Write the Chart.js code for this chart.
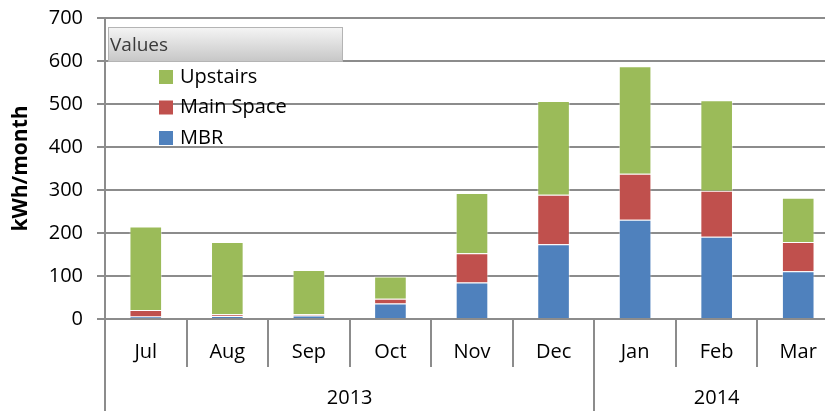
<!DOCTYPE html>
<html lang="en">
<head>
<meta charset="UTF-8">
<title>kWh/month by zone</title>
<script src="https://cdn.jsdelivr.net/npm/chart.js"></script>
<style>
  html, body { margin: 0; padding: 0; background: #fff; overflow: hidden; }
  /* shifted up a bit so the 700 line sits near the top edge like the original */
  .wrap { position: relative; width: 839px; height: 419px; margin-top: -8px; }
</style>
</head>
<body>
<div class="wrap"><canvas id="myChart"></canvas></div>
<script>
// data
const months = ['Jul', 'Aug', 'Sep', 'Oct', 'Nov', 'Dec', 'Jan', 'Feb', 'Mar'];
const years = ['2013', '2014'];
const monthsPerYear = [6, 3];
const mbr = [6, 7, 8, 36, 85, 174, 231, 191, 111];
const mainSpace = [15, 4, 3, 11, 68, 115, 107, 107, 68];
const upstairs = [194, 168, 103, 52, 140, 218, 250, 211, 103];
const yTicks = [0, 100, 200, 300, 400, 500, 600, 700];

const FONT = "'Open Sans', sans-serif";
const GRID = '#8c8c8c';
const SHIFT = 8;

// year row under the month labels + Excel style "Values" legend
const extras = {
    id: 'extras',
    afterDraw(chart) {
        const ctx = chart.ctx;
        const x = chart.scales.x;
        const base = x.top;
        const bottom = chart.height;

        ctx.save();
        ctx.strokeStyle = GRID;
        ctx.lineWidth = 2;
        ctx.fillStyle = '#000';
        ctx.font = '20px ' + FONT;
        ctx.textAlign = 'center';
        ctx.textBaseline = 'middle';
        let start = 0;
        years.forEach((yr, i) => {
            const n = monthsPerYear[i];
            const x0 = x.getPixelForValue(start - 0.5);
            const x1 = x.getPixelForValue(start + n - 0.5);
            ctx.beginPath();
            ctx.moveTo(Math.round(x0), base);
            ctx.lineTo(Math.round(x0), bottom);
            ctx.stroke();
            ctx.fillText(yr, (x0 + x1) / 2, base + 79);
            start += n;
        });

        // legend
        const bx = 108, by = 27 + SHIFT, bw = 235, bh = 35;
        const g = ctx.createLinearGradient(0, by, 0, by + bh);
        g.addColorStop(0, '#f5f5f5');
        g.addColorStop(1, '#c6c6c6');
        ctx.fillStyle = g;
        ctx.fillRect(bx, by, bw, bh);
        ctx.strokeStyle = '#b4b4b4';
        ctx.lineWidth = 1;
        ctx.strokeRect(bx + 0.5, by + 0.5, bw - 1, bh - 1);
        ctx.fillStyle = '#3a3a3a';
        ctx.font = '19px ' + FONT;
        ctx.textAlign = 'left';
        ctx.fillText('Values', bx + 2, by + bh / 2 + 1);

        const items = chart.data.datasets.slice().reverse();
        ctx.font = '20px ' + FONT;
        items.forEach((ds, i) => {
            const cy = 77 + SHIFT + i * 30.5;
            ctx.fillStyle = ds.backgroundColor;
            ctx.fillRect(159, cy - 7, 14, 14);
            ctx.fillStyle = '#000';
            ctx.fillText(ds.label, 180, cy);
        });
        ctx.restore();
    }
};

const ctx = document.getElementById('myChart').getContext('2d');
const myChart = new Chart(ctx, {
    type: 'bar',
    data: {
        labels: months,
        datasets: [{
            label: 'MBR',
            data: mbr,
            backgroundColor: '#4f81bd',
            borderColor: 'rgba(255,255,255,0.45)',
            borderWidth: 1
        }, {
            label: 'Main Space',
            data: mainSpace,
            backgroundColor: '#c0504d',
            borderColor: 'rgba(255,255,255,0.45)',
            borderWidth: 1
        }, {
            label: 'Upstairs',
            data: upstairs,
            backgroundColor: '#9bbb59',
            borderColor: 'rgba(255,255,255,0.45)',
            borderWidth: 1
        }]
    },
    options: {
        responsive: true,
        maintainAspectRatio: false,
        animation: false,
        layout: { padding: 0 },
        datasets: { bar: { categoryPercentage: 1, barPercentage: 0.4 } },
        plugins: {
            legend: { display: false },
            tooltip: { enabled: false }
        },
        scales: {
            x: {
                stacked: true,
                offset: true,
                grid: {
                    offset: true,
                    drawOnChartArea: false,
                    drawTicks: true,
                    tickLength: 48,
                    color: GRID,
                    lineWidth: 2
                },
                border: { color: GRID, width: 2 },
                ticks: {
                    color: '#000',
                    font: { family: FONT, size: 20 },
                    padding: -27,
                    maxRotation: 0,
                    autoSkip: false
                },
                afterFit(scale) { scale.height = 92; }
            },
            y: {
                stacked: true,
                min: 0,
                max: 700,
                afterBuildTicks(scale) {
                    scale.ticks = yTicks.map(v => ({ value: v }));
                },
                grid: {
                    color: GRID,
                    lineWidth: 2,
                    tickLength: 8
                },
                border: { color: GRID, width: 2 },
                ticks: {
                    color: '#000',
                    font: { family: FONT, size: 20 },
                    padding: 14
                },
                title: {
                    display: true,
                    text: 'kWh/month',
                    color: '#000',
                    font: { family: FONT, size: 21, weight: 'bold' },
                    padding: { top: 8, bottom: 0 }
                },
                afterFit(scale) { scale.width = 105; }
            }
        }
    },
    plugins: [extras]
});
</script>
</body>
</html>
